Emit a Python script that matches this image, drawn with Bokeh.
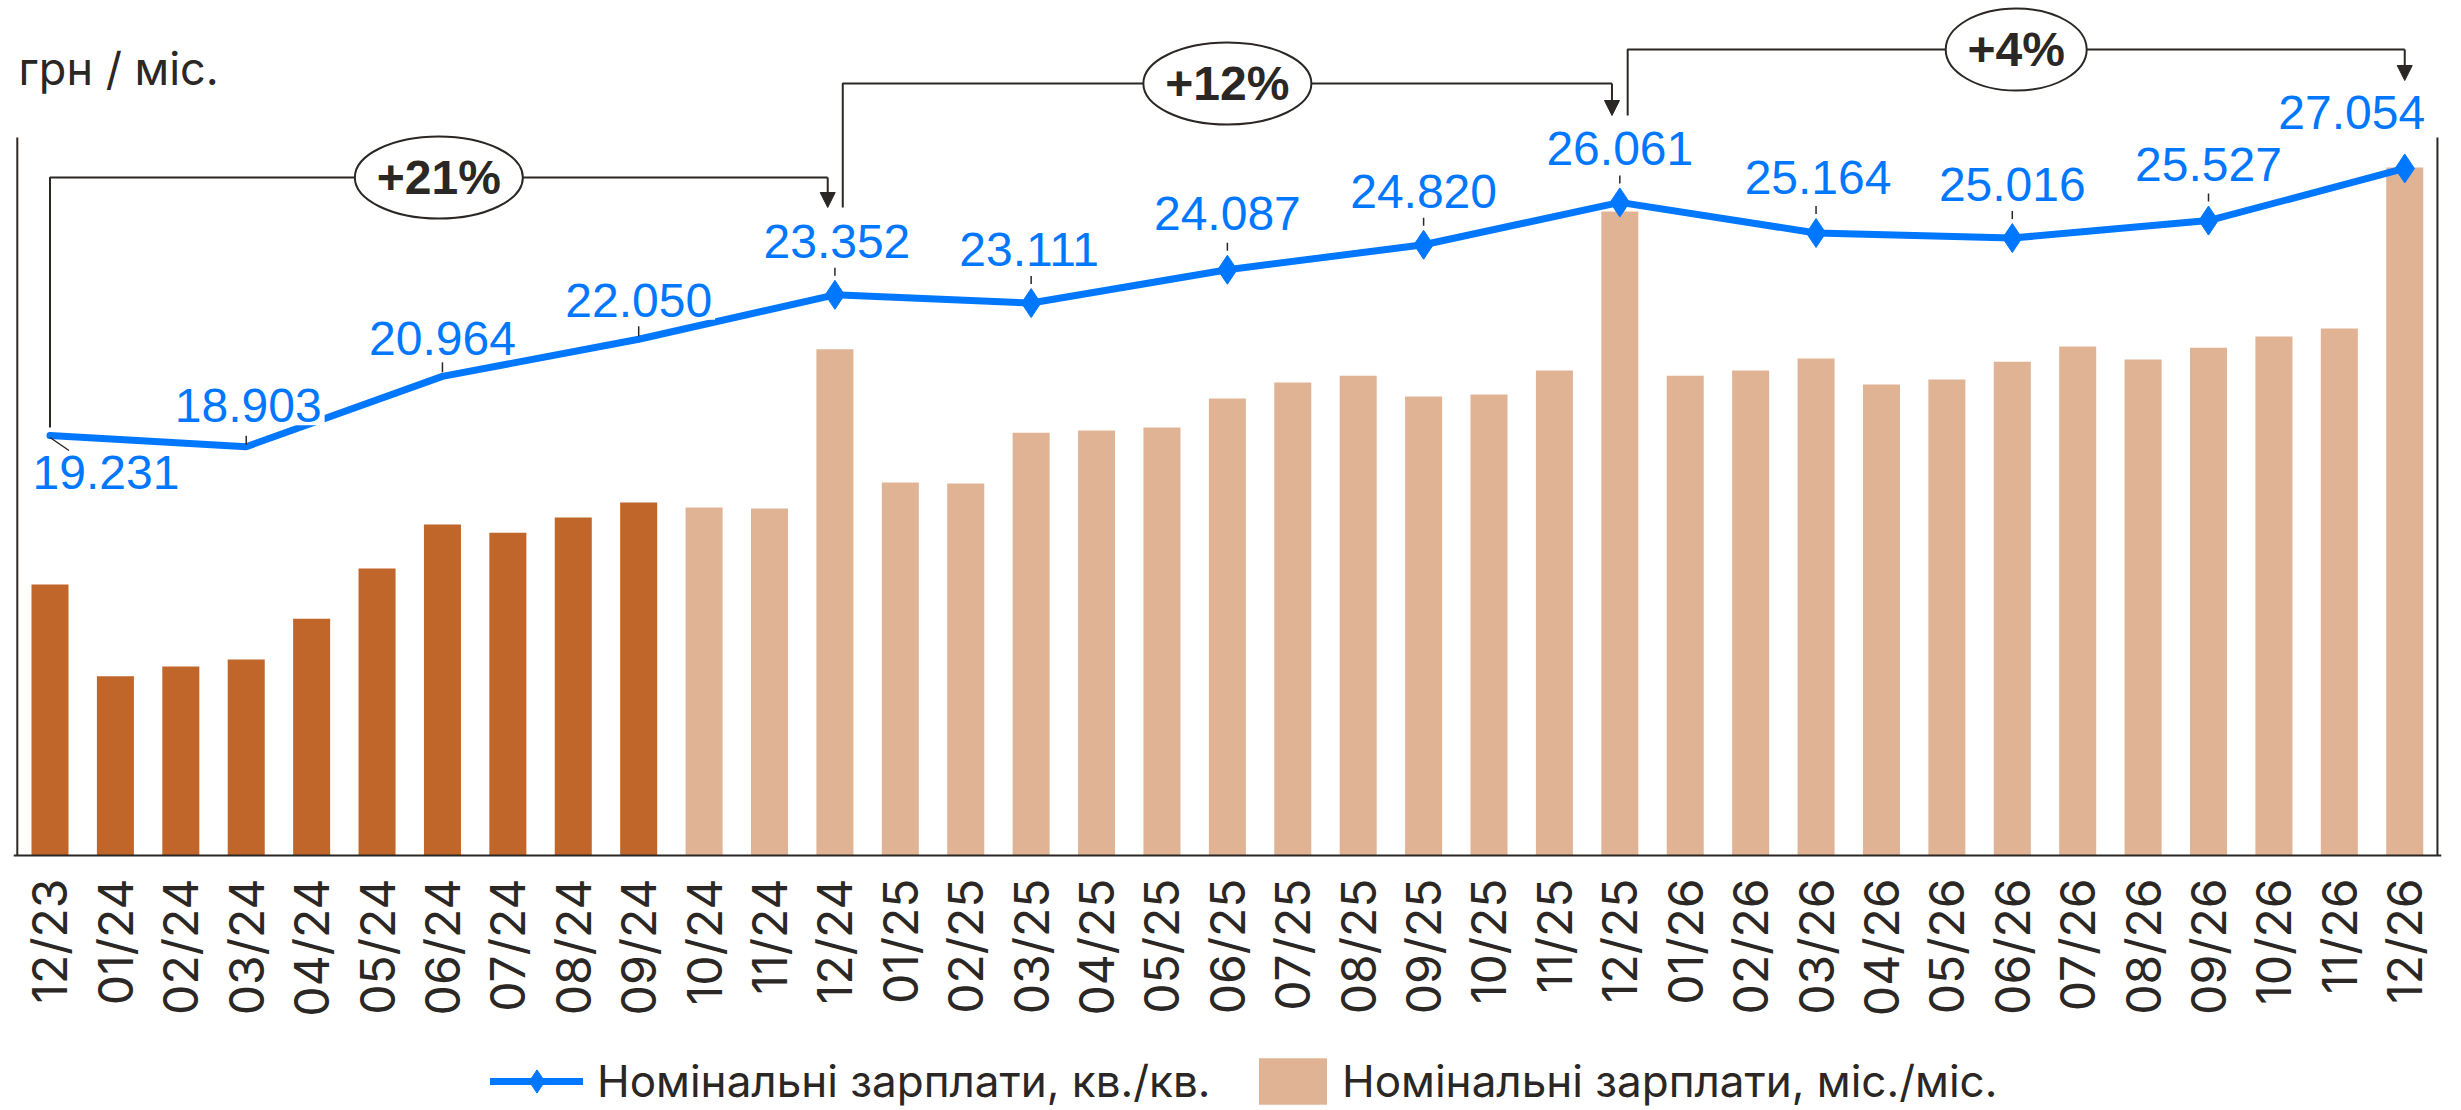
import math
from bokeh.plotting import figure
from bokeh.models import (Range1d, FixedTicker, ColumnDataSource, Legend, LegendItem,
                          Arrow, NormalHead)
from bokeh.core.properties import value
from bokeh.embed import file_html
from bokeh.resources import INLINE

# ---------------- data ----------------
months = ["12/23", "01/24", "02/24", "03/24", "04/24", "05/24", "06/24", "07/24", "08/24",
          "09/24", "10/24", "11/24", "12/24", "01/25", "02/25", "03/25", "04/25", "05/25",
          "06/25", "07/25", "08/25", "09/25", "10/25", "11/25", "12/25", "01/26", "02/26",
          "03/26", "04/26", "05/26", "06/26", "07/26", "08/26", "09/26", "10/26", "11/26",
          "12/26"]
# monthly nominal wages, UAH (no axis in original)
bar_values = [20540, 17850, 18140, 18340, 19540, 21010, 22300, 22060, 22500, 22940,
              22800, 22770, 27430, 23530, 23500, 24990, 25050, 25140, 25990, 26460,
              26660, 26050, 26110, 26810, 31470, 26660, 26810, 27160, 26400, 26550,
              27070, 27510, 27130, 27480, 27810, 28040, 32760]
n_actual = 10  # first bars are actual data (darker colour)

quarter_months = ["12/23", "03/24", "06/24", "09/24", "12/24", "03/25", "06/25", "09/25",
                  "12/25", "03/26", "06/26", "09/26", "12/26"]
quarter_values = [19231, 18903, 20964, 22050, 23352, 23111, 24087, 24820, 26061, 25164,
                  25016, 25527, 27054]
quarter_labels = ["19.231", "18.903", "20.964", "22.050", "23.352", "23.111", "24.087",
                  "24.820", "26.061", "25.164", "25.016", "25.527", "27.054"]
first_marker = 4  # diamonds from 12/24 onwards

growth_labels = ["+21%", "+12%", "+4%"]
growth_from = ["12/23", "12/24", "12/25"]
growth_to = ["12/24", "12/25", "12/26"]

unit_label = "грн / міс."
legend_line = "Номінальні зарплати, кв./кв."
legend_bars = "Номінальні зарплати, міс./міс."

# ---------------- styles / geometry ----------------
BLUE = "#0077FF"
DARK_BAR = "#C1662B"
LIGHT_BAR = "#E0B395"
INK = "#2B2724"

W, H = 2461, 1110
V_AXIS = 6925                     # line-axis value at the bar baseline
Y_START, Y_END = -546, 31976      # line value range over the full frame height
PX = (Y_END - Y_START) / H        # UAH per pixel
BAR0 = 12600                      # bar-axis value at the baseline
SHIFT = BAR0 - V_AXIS
X0, X1 = -0.558, 36.562
XPX = 2428 / (X1 - X0)            # pixels per category step


def yd(row):
    """screen row -> value on the line axis"""
    return Y_END - row * PX


p = figure(width=W, height=H, output_backend="svg", toolbar_location=None, title=None,
           x_range=Range1d(X0, X1), y_range=Range1d(Y_START, Y_END), y_axis_location=None,
           min_border_left=13, min_border_right=20, min_border_top=0, min_border_bottom=0)
p.extra_y_ranges = {"bars": Range1d(Y_START + SHIFT, Y_END + SHIFT)}
p.outline_line_color = None
p.xgrid.visible = False
p.ygrid.visible = False
p.background_fill_color = "white"

# bars
bsrc = ColumnDataSource(dict(x=list(range(len(months))), top=bar_values,
                             color=[DARK_BAR if i < n_actual else LIGHT_BAR
                                    for i in range(len(months))]))
bars = p.vbar(x="x", top="top", bottom=BAR0, width=0.566, fill_color="color",
              line_color=None, y_range_name="bars", source=bsrc)

# frame side lines
p.segment(x0=[-0.5, len(months) - 0.5], y0=[yd(137)] * 2, x1=[-0.5, len(months) - 0.5],
          y1=[V_AXIS] * 2, line_color=INK, line_width=2)

# quarterly line
qx = [months.index(m) for m in quarter_months]
line = p.line(qx, quarter_values, line_width=7, line_color=BLUE, line_cap="round")
marks = p.scatter(qx[first_marker:], quarter_values[first_marker:], marker="diamond",
                  size=29, fill_color=BLUE, line_color=BLUE)

# leader ticks (pixel offsets above point)
tick_hi = [None, 11, 14, 13, 27, 27, 27, 27, 27, 27, 27, 27, None]
tick_lo = [None, 2, 4, 3, 19, 19, 19, 19, 19, 19, 19, 19, None]
sx0, sy0, sx1, sy1 = [], [], [], []
for i, (x, v) in enumerate(zip(qx, quarter_values)):
    if tick_hi[i] is not None:
        sx0.append(x); sx1.append(x)
        sy0.append(v + tick_lo[i] * PX); sy1.append(v + tick_hi[i] * PX)
sx0.append(qx[0]); sy0.append(quarter_values[0] - 2 * PX)
sx1.append(qx[0] + 19 / XPX); sy1.append(quarter_values[0] - 15 * PX)
p.segment(x0=sx0, y0=sy0, x1=sx1, y1=sy1, line_color=INK, line_width=1.5)

# value labels
lab_dx = [56, 2, 0, 0, 2, -2, 0, 0, 0, 2, 0, 0, -53]
lab_dy = [37, -41, -38, -39, -53, -54, -56, -53, -54, -55, -54, -56, -56]
p.text(x=qx, y=quarter_values, text=quarter_labels, x_offset=lab_dx, y_offset=lab_dy,
       text_align="center", text_baseline="alphabetic",
       text_font=value("Liberation Sans"), text_font_size="48px", text_color=BLUE,
       background_fill_color="white", padding=3)

# growth brackets
levels = [177, 83, 49]
starts = [427, 207, 115]
tips = [207, 115, 80]
left_off = [0.0, 0.12, 0.12]
right_off = [-0.11, -0.12, 0.0]
ell_w = [168, 168, 141]
bxs, bys, mids, ly = [], [], [], []
for k in range(len(growth_labels)):
    xa = months.index(growth_from[k]) + left_off[k]
    xb = months.index(growth_to[k]) + right_off[k]
    bxs.append([xa, xa, xb])
    bys.append([yd(starts[k]), yd(levels[k]), yd(levels[k])])
    mids.append((xa + xb) / 2)
    ly.append(yd(levels[k]))
    p.add_layout(Arrow(x_start=xb, y_start=yd(levels[k]), x_end=xb, y_end=yd(tips[k]),
                       line_color=INK, line_width=2,
                       end=NormalHead(size=15, fill_color=INK, line_color=INK,
                                      line_width=1)))
p.multi_line(xs=bxs, ys=bys, line_color=INK, line_width=2)
p.ellipse(x=mids, y=ly, width=ell_w, height=82, width_units="screen",
          height_units="screen", fill_color="white", line_color=INK, line_width=2)
p.text(x=mids, y=ly, text=growth_labels, text_align="center", text_baseline="middle",
       text_font=value("Liberation Sans"), text_font_style="bold",
       text_font_size="48px", text_color=INK)

# unit label
p.text(x=[(18 - 49.5) / XPX], y=[yd(68)], text=[unit_label], text_align="left",
       text_baseline="alphabetic", text_font=value("Inter"), text_font_size="45px",
       text_color=INK)

# x axis, drawn at the bar baseline
ax = p.xaxis[0]
ax.fixed_location = V_AXIS
ax.ticker = FixedTicker(ticks=list(range(len(months))))
ax.major_label_overrides = {i: m for i, m in enumerate(months)}
ax.major_label_orientation = math.pi / 2
ax.major_label_text_font = "Inter"
ax.major_label_text_font_size = "48px"
ax.major_label_text_color = INK
ax.major_label_standoff = 17
ax.major_tick_line_color = None
ax.minor_tick_line_color = None
ax.axis_line_color = INK
ax.axis_line_width = 2

# legends (two, side by side, under the axis labels)
common = dict(padding=0, margin=0, spacing=0, border_line_color=None,
              background_fill_alpha=0, label_text_font="Inter",
              label_text_font_size="44px", label_text_color=INK, glyph_height=58)
leg1 = Legend(items=[LegendItem(label=legend_line, renderers=[line, marks])],
              location=(477, 0), glyph_width=93, label_standoff=14, **common)
leg2 = Legend(items=[LegendItem(label=legend_bars, renderers=[bars], index=n_actual)],
              location=(1237, 0), glyph_width=85, label_standoff=7, **common)
p.add_layout(leg1)
p.add_layout(leg2)

open("out.html", "w").write(file_html(p, INLINE))
